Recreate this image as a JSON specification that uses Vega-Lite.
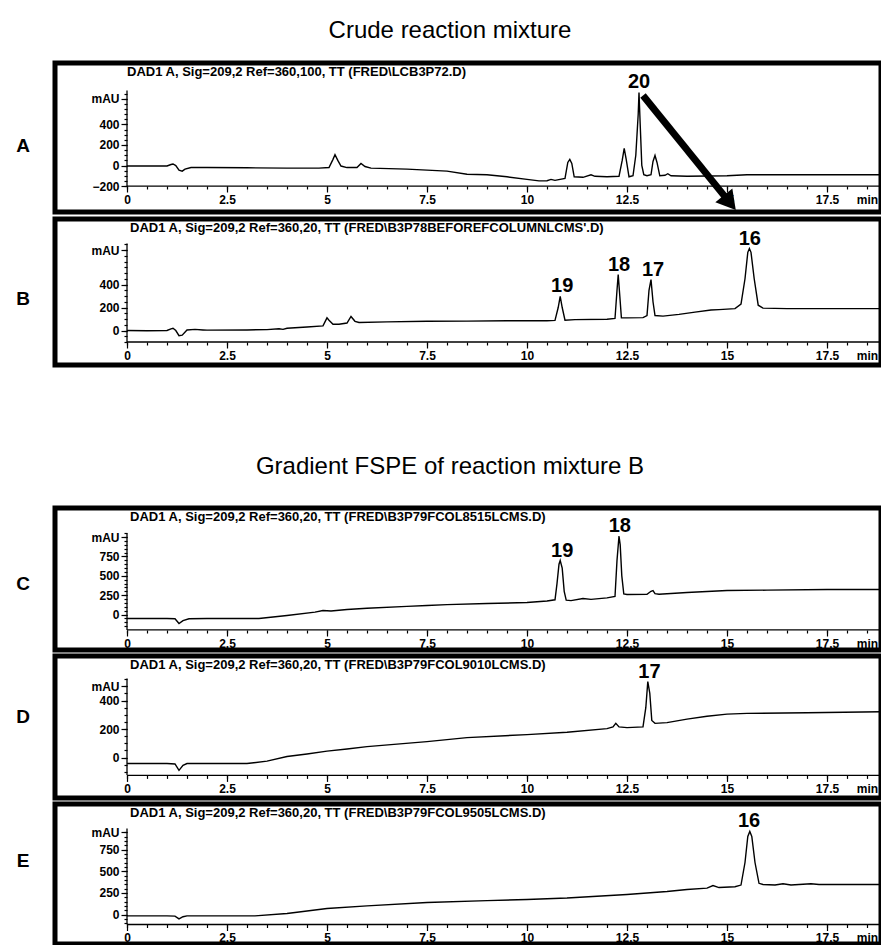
{
  "$schema": "https://vega.github.io/schema/vega-lite/v6.json",
  "padding": {"left": 13, "top": 18, "right": 0, "bottom": 0},
  "background": "white",
  "config": {
    "view": {"stroke": "black", "strokeWidth": 5},
    "font": "Liberation Sans",
    "axis": {"grid": false, "domain": false, "title": null, "labelFont": "Liberation Sans", "labelFontWeight": "bold", "labelFontSize": 12, "labelColor": "black", "tickColor": "black", "tickWidth": 1.2, "labelPadding": 2, "labelOverlap": false, "labelFlush": false, "labelBound": false},
    "title": {"font": "Liberation Sans", "fontSize": 24, "fontWeight": "normal", "color": "black", "anchor": "middle"},
    "line": {"color": "black", "strokeWidth": 1.4},
    "rule": {"color": "black", "strokeWidth": 1.3},
    "text": {"color": "black"}
  },
  "datasets": {
    "traceA": [
      {"t":0,"v":-5},{"t":0.5,"v":-5},{"t":1.0,"v":-5},{"t":1.1,"v":10},{"t":1.15,"v":15},{"t":1.22,"v":0},{"t":1.3,"v":-45},{"t":1.38,"v":-55},{"t":1.45,"v":-35},{"t":1.6,"v":-20},{"t":2.0,"v":-20},{"t":3.0,"v":-22},{"t":4.0,"v":-25},{"t":4.8,"v":-25},{"t":5.05,"v":-20},{"t":5.15,"v":60},{"t":5.2,"v":105},{"t":5.27,"v":50},{"t":5.35,"v":-5},{"t":5.5,"v":-20},{"t":5.75,"v":-20},{"t":5.85,"v":20},{"t":5.95,"v":-10},{"t":6.1,"v":-25},{"t":7.0,"v":-35},{"t":7.5,"v":-45},{"t":8.0,"v":-55},{"t":8.5,"v":-85},{"t":9.0,"v":-90},{"t":9.5,"v":-110},{"t":10.0,"v":-135},{"t":10.3,"v":-150},{"t":10.5,"v":-148},{"t":10.6,"v":-135},{"t":10.7,"v":-145},{"t":10.95,"v":-125},{"t":11.02,"v":30},{"t":11.07,"v":60},{"t":11.12,"v":20},{"t":11.18,"v":-110},{"t":11.4,"v":-115},{"t":11.6,"v":-90},{"t":11.7,"v":-105},{"t":12.0,"v":-110},{"t":12.3,"v":-105},{"t":12.38,"v":50},{"t":12.43,"v":166},{"t":12.48,"v":60},{"t":12.55,"v":-110},{"t":12.65,"v":-100},{"t":12.72,"v":100},{"t":12.75,"v":300},{"t":12.78,"v":500},{"t":12.8,"v":712},{"t":12.83,"v":400},{"t":12.87,"v":0},{"t":12.92,"v":-90},{"t":13.0,"v":-100},{"t":13.1,"v":-90},{"t":13.15,"v":40},{"t":13.2,"v":98},{"t":13.25,"v":30},{"t":13.32,"v":-100},{"t":13.45,"v":-95},{"t":13.52,"v":-80},{"t":13.6,"v":-100},{"t":14.0,"v":-105},{"t":15.0,"v":-100},{"t":15.5,"v":-90},{"t":17.0,"v":-90},{"t":18.85,"v":-90}
    ],
    "traceB": [
      {"t":0,"v":0},{"t":0.5,"v":-2},{"t":1.0,"v":0},{"t":1.1,"v":15},{"t":1.15,"v":20},{"t":1.22,"v":0},{"t":1.3,"v":-45},{"t":1.38,"v":-40},{"t":1.5,"v":5},{"t":1.7,"v":10},{"t":1.9,"v":5},{"t":2.0,"v":3},{"t":3.0,"v":5},{"t":3.5,"v":8},{"t":3.8,"v":15},{"t":3.9,"v":10},{"t":4.0,"v":20},{"t":4.5,"v":30},{"t":4.9,"v":40},{"t":5.0,"v":110},{"t":5.05,"v":90},{"t":5.15,"v":55},{"t":5.3,"v":55},{"t":5.5,"v":65},{"t":5.6,"v":122},{"t":5.7,"v":80},{"t":5.8,"v":70},{"t":6.5,"v":75},{"t":7.5,"v":80},{"t":8.5,"v":82},{"t":9.5,"v":85},{"t":10.5,"v":85},{"t":10.7,"v":88},{"t":10.78,"v":200},{"t":10.83,"v":296},{"t":10.88,"v":200},{"t":10.95,"v":90},{"t":11.2,"v":95},{"t":12.0,"v":98},{"t":12.2,"v":105},{"t":12.25,"v":350},{"t":12.28,"v":487},{"t":12.32,"v":300},{"t":12.36,"v":110},{"t":12.5,"v":110},{"t":12.9,"v":112},{"t":13.0,"v":130},{"t":13.05,"v":350},{"t":13.1,"v":443},{"t":13.15,"v":250},{"t":13.2,"v":130},{"t":13.4,"v":125},{"t":13.8,"v":140},{"t":14.2,"v":160},{"t":14.6,"v":178},{"t":14.8,"v":182},{"t":15.2,"v":190},{"t":15.35,"v":230},{"t":15.45,"v":450},{"t":15.52,"v":680},{"t":15.56,"v":713},{"t":15.6,"v":680},{"t":15.68,"v":450},{"t":15.78,"v":220},{"t":15.9,"v":195},{"t":16.5,"v":190},{"t":17.5,"v":190},{"t":18.85,"v":190}
    ],
    "traceC": [
      {"t":0,"v":-52},{"t":1.0,"v":-52},{"t":1.2,"v":-55},{"t":1.3,"v":-116},{"t":1.4,"v":-80},{"t":1.55,"v":-55},{"t":2.0,"v":-52},{"t":3.3,"v":-52},{"t":4.0,"v":-13},{"t":4.7,"v":30},{"t":4.9,"v":52},{"t":5.1,"v":45},{"t":5.5,"v":65},{"t":6.0,"v":80},{"t":7.0,"v":105},{"t":7.5,"v":116},{"t":8.0,"v":128},{"t":9.0,"v":142},{"t":10.0,"v":155},{"t":10.5,"v":175},{"t":10.7,"v":190},{"t":10.75,"v":400},{"t":10.8,"v":650},{"t":10.83,"v":698},{"t":10.88,"v":600},{"t":10.93,"v":300},{"t":10.98,"v":185},{"t":11.1,"v":180},{"t":11.4,"v":207},{"t":11.6,"v":195},{"t":12.0,"v":215},{"t":12.2,"v":233},{"t":12.25,"v":700},{"t":12.3,"v":1015},{"t":12.33,"v":900},{"t":12.37,"v":500},{"t":12.42,"v":265},{"t":12.5,"v":259},{"t":13.0,"v":262},{"t":13.1,"v":300},{"t":13.15,"v":310},{"t":13.2,"v":270},{"t":13.3,"v":262},{"t":14.0,"v":284},{"t":15.0,"v":310},{"t":16.0,"v":315},{"t":17.5,"v":323},{"t":18.85,"v":323}
    ],
    "traceD": [
      {"t":0,"v":-42},{"t":1.0,"v":-42},{"t":1.2,"v":-45},{"t":1.3,"v":-90},{"t":1.4,"v":-55},{"t":1.5,"v":-42},{"t":3.0,"v":-42},{"t":3.5,"v":-25},{"t":4.0,"v":7},{"t":4.5,"v":25},{"t":5.0,"v":45},{"t":5.5,"v":60},{"t":6.0,"v":77},{"t":7.5,"v":112},{"t":8.5,"v":140},{"t":10.0,"v":161},{"t":11.0,"v":178},{"t":12.0,"v":203},{"t":12.15,"v":215},{"t":12.22,"v":240},{"t":12.3,"v":215},{"t":12.5,"v":210},{"t":12.9,"v":215},{"t":12.97,"v":350},{"t":13.02,"v":533},{"t":13.07,"v":450},{"t":13.12,"v":260},{"t":13.2,"v":240},{"t":13.5,"v":245},{"t":14.0,"v":270},{"t":14.5,"v":290},{"t":15.0,"v":305},{"t":15.5,"v":310},{"t":17.0,"v":315},{"t":18.85,"v":322}
    ],
    "traceE": [
      {"t":0,"v":-15},{"t":1.0,"v":-15},{"t":1.2,"v":-18},{"t":1.3,"v":-50},{"t":1.4,"v":-25},{"t":1.5,"v":-15},{"t":3.2,"v":-15},{"t":4.0,"v":12},{"t":5.0,"v":69},{"t":6.0,"v":100},{"t":7.5,"v":139},{"t":9.0,"v":160},{"t":10.0,"v":173},{"t":11.0,"v":190},{"t":12.5,"v":231},{"t":13.5,"v":265},{"t":14.0,"v":288},{"t":14.5,"v":305},{"t":14.65,"v":335},{"t":14.8,"v":311},{"t":15.2,"v":320},{"t":15.35,"v":340},{"t":15.45,"v":600},{"t":15.52,"v":900},{"t":15.57,"v":958},{"t":15.62,"v":900},{"t":15.7,"v":600},{"t":15.8,"v":360},{"t":15.9,"v":346},{"t":16.2,"v":340},{"t":16.4,"v":355},{"t":16.6,"v":340},{"t":17.1,"v":355},{"t":17.3,"v":346},{"t":18.85,"v":346}
    ],
    "peaksA": [{"label":"20","t":12.8,"apex":712}],
    "peaksB": [{"label":"19","t":10.88,"apex":296},{"label":"18","t":12.3,"apex":487},{"label":"17","t":13.15,"apex":443},{"label":"16","t":15.57,"apex":713}],
    "peaksC": [{"label":"19","t":10.88,"apex":698},{"label":"18","t":12.32,"apex":1015}],
    "peaksD": [{"label":"17","t":13.06,"apex":533}],
    "peaksE": [{"label":"16","t":15.55,"apex":958}],
    "arrowA": [{"x1":12.9,"y1":682,"x2":15.07,"y2":-362}],
    "infoA": [{"letter":"A","header":"DAD1 A, Sig=209,2 Ref=360,100, TT (FRED\\LCB3P72.D)"}],
    "infoB": [{"letter":"B","header":"DAD1 A, Sig=209,2 Ref=360,20, TT (FRED\\B3P78BEFOREFCOLUMNLCMS'.D)"}],
    "infoC": [{"letter":"C","header":"DAD1 A, Sig=209,2 Ref=360,20, TT (FRED\\B3P79FCOL8515LCMS.D)"}],
    "infoD": [{"letter":"D","header":"DAD1 A, Sig=209,2 Ref=360,20, TT (FRED\\B3P79FCOL9010LCMS.D)"}],
    "infoE": [{"letter":"E","header":"DAD1 A, Sig=209,2 Ref=360,20, TT (FRED\\B3P79FCOL9505LCMS.D)"}]
  },
  "spacing": 86,
  "vconcat": [
    {
      "title": {"text": "Crude reaction mixture", "offset": 18},
      "spacing": 1,
      "vconcat": [
        {
          "width": 826, "height": 149,
          "resolve": {"axis": {"x": "independent", "y": "independent"}},
          "layer": [
            {"data": {"name": "traceA"}, "mark": {"type": "line"},
             "encoding": {
               "x": {"field": "t", "type": "quantitative", "scale": {"domain": [-1.8, 18.85], "nice": false, "zero": false},
                     "axis": {"orient": "bottom", "offset": -26, "values": [0,2.5,5,7.5,10,12.5,15,17.5], "labelExpr": "format(datum.value, '~g')", "tickSize": 6}},
               "y": {"field": "v", "type": "quantitative", "scale": {"domain": [-453, 999], "nice": false, "zero": false},
                     "axis": {"orient": "left", "offset": -72, "values": [-200,0,200,400,650], "tickSize": 6,
                              "labelExpr": "datum.value === 650 ? 'mAU' : format(datum.value, '~g')"}}
             }},
            {"data": {"name": "infoA"}, "mark": {"type": "rule"},
             "encoding": {"x": {"datum": 0, "axis": {"orient": "bottom", "offset": -26, "tickSize": 3, "labelPadding": 5, "values": [0,0.5,1,1.5,2,2.5,3,3.5,4,4.5,5,5.5,6,6.5,7,7.5,8,8.5,9,9.5,10,10.5,11,11.5,12,12.5,13,13.5,14,14.5,15,15.5,16,16.5,17,17.5,18,18.5], "labelExpr": "datum.value === 18.5 ? 'min' : ''"}},
                          "x2": {"datum": 18.85}, "y": {"datum": -200, "axis": null}}},
            {"data": {"name": "infoA"}, "mark": {"type": "rule"},
             "encoding": {"x": {"datum": 0, "axis": null},
                          "y": {"datum": -200, "axis": {"orient": "left", "offset": -72, "tickSize": 3, "labels": false, "values": [-200,-150,-100,-50,0,50,100,150,200,250,300,350,400,450,500,550,600,650,700]}},
                          "y2": {"datum": 731}}},
            {"data": {"name": "infoA"}, "mark": {"type": "text", "align": "left", "baseline": "top", "dy": 3, "fontSize": 13, "fontWeight": "bold"},
             "encoding": {"x": {"datum": 0, "axis": null}, "y": {"datum": 999, "axis": null}, "text": {"field": "header"}}},
            {"data": {"name": "infoA"}, "mark": {"type": "text", "align": "center", "baseline": "middle", "fontSize": 19, "fontWeight": "bold"},
             "encoding": {"x": {"datum": -2.6, "axis": null}, "y": {"datum": 195, "axis": null}, "text": {"field": "letter"}}},
            {"data": {"name": "peaksA"}, "mark": {"type": "text", "align": "center", "baseline": "alphabetic", "dy": -4, "fontSize": 20, "fontWeight": "bold"},
             "encoding": {"x": {"field": "t", "type": "quantitative", "axis": null}, "y": {"field": "apex", "type": "quantitative", "axis": null}, "text": {"field": "label"}}},
            {"data": {"name": "arrowA"}, "mark": {"type": "rule", "strokeWidth": 7, "strokeCap": "butt"},
             "encoding": {"x": {"field": "x1", "type": "quantitative", "axis": null}, "y": {"field": "y1", "type": "quantitative", "axis": null}, "x2": {"field": "x2"}, "y2": {"field": "y2"}}},
            {"data": {"name": "arrowA"}, "mark": {"type": "point", "shape": "triangle-down", "angle": -39, "size": 480, "filled": true, "color": "black", "opacity": 1},
             "encoding": {"x": {"field": "x2", "type": "quantitative", "axis": null}, "y": {"field": "y2", "type": "quantitative", "axis": null}}}
          ]
        },
        {
          "width": 826, "height": 146,
          "resolve": {"axis": {"x": "independent", "y": "independent"}},
          "layer": [
            {"data": {"name": "traceB"}, "mark": {"type": "line"},
             "encoding": {
               "x": {"field": "t", "type": "quantitative", "scale": {"domain": [-1.8, 18.85], "nice": false, "zero": false},
                     "axis": {"orient": "bottom", "offset": -23, "values": [0,2.5,5,7.5,10,12.5,15,17.5], "labelExpr": "format(datum.value, '~g')", "tickSize": 6}},
               "y": {"field": "v", "type": "quantitative", "scale": {"domain": [-300, 970], "nice": false, "zero": false},
                     "axis": {"orient": "left", "offset": -72, "values": [0,200,400,700], "tickSize": 6,
                              "labelExpr": "datum.value === 700 ? 'mAU' : format(datum.value, '~g')"}}
             }},
            {"data": {"name": "infoB"}, "mark": {"type": "rule"},
             "encoding": {"x": {"datum": 0, "axis": {"orient": "bottom", "offset": -23, "tickSize": 3, "labelPadding": 5, "values": [0,0.5,1,1.5,2,2.5,3,3.5,4,4.5,5,5.5,6,6.5,7,7.5,8,8.5,9,9.5,10,10.5,11,11.5,12,12.5,13,13.5,14,14.5,15,15.5,16,16.5,17,17.5,18,18.5], "labelExpr": "datum.value === 18.5 ? 'min' : ''"}},
                          "x2": {"datum": 18.85}, "y": {"datum": -100, "axis": null}}},
            {"data": {"name": "infoB"}, "mark": {"type": "rule"},
             "encoding": {"x": {"datum": 0, "axis": null},
                          "y": {"datum": -100, "axis": {"orient": "left", "offset": -72, "tickSize": 3, "labels": false, "values": [-100,-50,0,50,100,150,200,250,300,350,400,450,500,550,600,650,700,750]}},
                          "y2": {"datum": 757}}},
            {"data": {"name": "infoB"}, "mark": {"type": "text", "align": "left", "baseline": "top", "dx": 3, "dy": 3, "fontSize": 13, "fontWeight": "bold"},
             "encoding": {"x": {"datum": 0, "axis": null}, "y": {"datum": 970, "axis": null}, "text": {"field": "header"}}},
            {"data": {"name": "infoB"}, "mark": {"type": "text", "align": "center", "baseline": "middle", "fontSize": 19, "fontWeight": "bold"},
             "encoding": {"x": {"datum": -2.6, "axis": null}, "y": {"datum": 278, "axis": null}, "text": {"field": "letter"}}},
            {"data": {"name": "peaksB"}, "mark": {"type": "text", "align": "center", "baseline": "alphabetic", "dy": -4, "fontSize": 20, "fontWeight": "bold"},
             "encoding": {"x": {"field": "t", "type": "quantitative", "axis": null}, "y": {"field": "apex", "type": "quantitative", "axis": null}, "text": {"field": "label"}}}
          ]
        }
      ]
    },
    {
      "title": {"text": "Gradient FSPE of reaction mixture B", "offset": 27},
      "spacing": 0,
      "vconcat": [
        {
          "width": 826, "height": 142,
          "resolve": {"axis": {"x": "independent", "y": "independent"}},
          "layer": [
            {"data": {"name": "traceC"}, "mark": {"type": "line"},
             "encoding": {
               "x": {"field": "t", "type": "quantitative", "scale": {"domain": [-1.8, 18.85], "nice": false, "zero": false},
                     "axis": {"orient": "bottom", "offset": -20, "values": [0,2.5,5,7.5,10,12.5,15,17.5], "labelExpr": "format(datum.value, '~g')", "tickSize": 6}},
               "y": {"field": "v", "type": "quantitative", "scale": {"domain": [-459, 1377], "nice": false, "zero": false},
                     "axis": {"orient": "left", "offset": -72, "values": [0,250,500,750,1000], "tickSize": 6,
                              "labelExpr": "datum.value === 1000 ? 'mAU' : format(datum.value, '~g')"}}
             }},
            {"data": {"name": "infoC"}, "mark": {"type": "rule"},
             "encoding": {"x": {"datum": 0, "axis": {"orient": "bottom", "offset": -20, "tickSize": 3, "labelPadding": 5, "values": [0,0.5,1,1.5,2,2.5,3,3.5,4,4.5,5,5.5,6,6.5,7,7.5,8,8.5,9,9.5,10,10.5,11,11.5,12,12.5,13,13.5,14,14.5,15,15.5,16,16.5,17,17.5,18,18.5], "labelExpr": "datum.value === 18.5 ? 'min' : ''"}},
                          "x2": {"datum": 18.85}, "y": {"datum": -200, "axis": null}}},
            {"data": {"name": "infoC"}, "mark": {"type": "rule"},
             "encoding": {"x": {"datum": 0, "axis": null},
                          "y": {"datum": -200, "axis": {"orient": "left", "offset": -72, "tickSize": 3, "labels": false, "values": [-150,-100,-50,0,50,100,150,200,250,300,350,400,450,500,550,600,650,700,750,800,850,900,950,1000,1050]}},
                          "y2": {"datum": 1050}}},
            {"data": {"name": "infoC"}, "mark": {"type": "text", "align": "left", "baseline": "top", "dx": 3, "dy": 3, "fontSize": 13, "fontWeight": "bold"},
             "encoding": {"x": {"datum": 0, "axis": null}, "y": {"datum": 1377, "axis": null}, "text": {"field": "header"}}},
            {"data": {"name": "infoC"}, "mark": {"type": "text", "align": "center", "baseline": "middle", "fontSize": 19, "fontWeight": "bold"},
             "encoding": {"x": {"datum": -2.6, "axis": null}, "y": {"datum": 388, "axis": null}, "text": {"field": "letter"}}},
            {"data": {"name": "peaksC"}, "mark": {"type": "text", "align": "center", "baseline": "alphabetic", "dy": -4, "fontSize": 20, "fontWeight": "bold"},
             "encoding": {"x": {"field": "t", "type": "quantitative", "axis": null}, "y": {"field": "apex", "type": "quantitative", "axis": null}, "text": {"field": "label"}}}
          ]
        },
        {
          "width": 826, "height": 142,
          "resolve": {"axis": {"x": "independent", "y": "independent"}},
          "layer": [
            {"data": {"name": "traceD"}, "mark": {"type": "line"},
             "encoding": {
               "x": {"field": "t", "type": "quantitative", "scale": {"domain": [-1.8, 18.85], "nice": false, "zero": false},
                     "axis": {"orient": "bottom", "offset": -22.6, "values": [0,2.5,5,7.5,10,12.5,15,17.5], "labelExpr": "format(datum.value, '~g')", "tickSize": 6}},
               "y": {"field": "v", "type": "quantitative", "scale": {"domain": [-284, 713], "nice": false, "zero": false},
                     "axis": {"orient": "left", "offset": -72, "values": [0,200,400,500], "tickSize": 6,
                              "labelExpr": "datum.value === 500 ? 'mAU' : format(datum.value, '~g')"}}
             }},
            {"data": {"name": "infoD"}, "mark": {"type": "rule"},
             "encoding": {"x": {"datum": 0, "axis": {"orient": "bottom", "offset": -22.6, "tickSize": 3, "labelPadding": 5, "values": [0,0.5,1,1.5,2,2.5,3,3.5,4,4.5,5,5.5,6,6.5,7,7.5,8,8.5,9,9.5,10,10.5,11,11.5,12,12.5,13,13.5,14,14.5,15,15.5,16,16.5,17,17.5,18,18.5], "labelExpr": "datum.value === 18.5 ? 'min' : ''"}},
                          "x2": {"datum": 18.85}, "y": {"datum": -125, "axis": null}}},
            {"data": {"name": "infoD"}, "mark": {"type": "rule"},
             "encoding": {"x": {"datum": 0, "axis": null},
                          "y": {"datum": -125, "axis": {"orient": "left", "offset": -72, "tickSize": 3, "labels": false, "values": [-100,-50,0,50,100,150,200,250,300,350,400,450,500,550]}},
                          "y2": {"datum": 555}}},
            {"data": {"name": "infoD"}, "mark": {"type": "text", "align": "left", "baseline": "top", "dx": 3, "dy": 3, "fontSize": 13, "fontWeight": "bold"},
             "encoding": {"x": {"datum": 0, "axis": null}, "y": {"datum": 713, "axis": null}, "text": {"field": "header"}}},
            {"data": {"name": "infoD"}, "mark": {"type": "text", "align": "center", "baseline": "middle", "fontSize": 19, "fontWeight": "bold"},
             "encoding": {"x": {"datum": -2.6, "axis": null}, "y": {"datum": 288, "axis": null}, "text": {"field": "letter"}}},
            {"data": {"name": "peaksD"}, "mark": {"type": "text", "align": "center", "baseline": "alphabetic", "dy": -4, "fontSize": 20, "fontWeight": "bold"},
             "encoding": {"x": {"field": "t", "type": "quantitative", "axis": null}, "y": {"field": "apex", "type": "quantitative", "axis": null}, "text": {"field": "label"}}}
          ]
        },
        {
          "width": 826, "height": 140,
          "resolve": {"axis": {"x": "independent", "y": "independent"}},
          "layer": [
            {"data": {"name": "traceE"}, "mark": {"type": "line"},
             "encoding": {
               "x": {"field": "t", "type": "quantitative", "scale": {"domain": [-1.8, 18.85], "nice": false, "zero": false},
                     "axis": {"orient": "bottom", "offset": -19.5, "values": [0,2.5,5,7.5,10,12.5,15,17.5], "labelExpr": "format(datum.value, '~g')", "tickSize": 6}},
               "y": {"field": "v", "type": "quantitative", "scale": {"domain": [-340, 1275], "nice": false, "zero": false},
                     "axis": {"orient": "left", "offset": -72, "values": [0,250,500,750,950], "tickSize": 6,
                              "labelExpr": "datum.value === 950 ? 'mAU' : format(datum.value, '~g')"}}
             }},
            {"data": {"name": "infoE"}, "mark": {"type": "rule"},
             "encoding": {"x": {"datum": 0, "axis": {"orient": "bottom", "offset": -19.5, "tickSize": 3, "labelPadding": 5, "values": [0,0.5,1,1.5,2,2.5,3,3.5,4,4.5,5,5.5,6,6.5,7,7.5,8,8.5,9,9.5,10,10.5,11,11.5,12,12.5,13,13.5,14,14.5,15,15.5,16,16.5,17,17.5,18,18.5], "labelExpr": "datum.value === 18.5 ? 'min' : ''"}},
                          "x2": {"datum": 18.85}, "y": {"datum": -115, "axis": null}}},
            {"data": {"name": "infoE"}, "mark": {"type": "rule"},
             "encoding": {"x": {"datum": 0, "axis": null},
                          "y": {"datum": -115, "axis": {"orient": "left", "offset": -72, "tickSize": 3, "labels": false, "values": [-100,-50,0,50,100,150,200,250,300,350,400,450,500,550,600,650,700,750,800,850,900,950]}},
                          "y2": {"datum": 992}}},
            {"data": {"name": "infoE"}, "mark": {"type": "text", "align": "left", "baseline": "top", "dx": 3, "dy": 3, "fontSize": 13, "fontWeight": "bold"},
             "encoding": {"x": {"datum": 0, "axis": null}, "y": {"datum": 1275, "axis": null}, "text": {"field": "header"}}},
            {"data": {"name": "infoE"}, "mark": {"type": "text", "align": "center", "baseline": "middle", "fontSize": 19, "fontWeight": "bold"},
             "encoding": {"x": {"datum": -2.6, "axis": null}, "y": {"datum": 612, "axis": null}, "text": {"field": "letter"}}},
            {"data": {"name": "peaksE"}, "mark": {"type": "text", "align": "center", "baseline": "alphabetic", "dy": -4, "fontSize": 20, "fontWeight": "bold"},
             "encoding": {"x": {"field": "t", "type": "quantitative", "axis": null}, "y": {"field": "apex", "type": "quantitative", "axis": null}, "text": {"field": "label"}}}
          ]
        }
      ]
    }
  ]
}
